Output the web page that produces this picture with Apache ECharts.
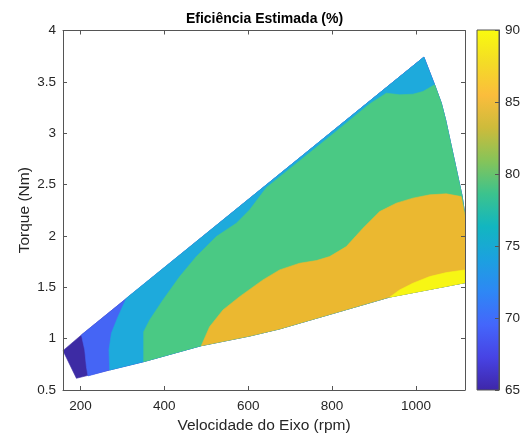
<!DOCTYPE html>
<html><head><meta charset="utf-8">
<script src="https://cdn.jsdelivr.net/npm/echarts@6/dist/echarts.min.js"></script>
<style>html,body{margin:0;padding:0;background:#fff}#c{width:529px;height:439px}</style>
</head><body><div id="c"></div>
<script>
// ---- data (rpm, Nm) ----
const xTicks = [200, 400, 600, 800, 1000];
const cbTicks = [65, 70, 75, 80, 85, 90];
const levels = [65, 70, 75, 80, 85, 90];
const levelColors = ['#3d2ba4', '#4565f5', '#1eaadc', '#4ac984', '#ebb830', '#f7f614'];

// operating-envelope boundary
const topEdge = [[158.5, 0.883], [202.4, 1.036], [1019, 3.741]];
const rightEdge = [[1019, 3.741], [1044.6, 3.471], [1060.5, 3.293], [1070.8, 3.13], [1110, 2.39], [1117, 2.2], [1117, 1.545]];
const bottomEdge = [[190.5, 0.614], [269.8, 0.695], [350.9, 0.776], [488.4, 0.932], [603.7, 1.026], [675, 1.095], [937.3, 1.405], [1117, 1.545]];

// contour lines (iso-efficiency)
const c70 = [[202.4, 1.036], [210.3, 0.89], [214.3, 0.727], [218.1, 0.637]];
const c75 = [[309.6, 1.394], [289.6, 1.214], [273.9, 1.053], [268.2, 0.89], [269.8, 0.695]];
const c80 = [[350.9, 0.776], [350.9, 1.068], [365.2, 1.182], [396.9, 1.377], [436.8, 1.604], [476.5, 1.799], [524.2, 1.994], [571.9, 2.124], [603.6, 2.254], [627.4, 2.383], [643.4, 2.47], [700, 2.656], [800, 2.985], [889.6, 3.285], [929.4, 3.39], [961.2, 3.374], [992.9, 3.38], [1016.7, 3.406], [1044.6, 3.471]];
const c85 = [[488.4, 0.932], [508.2, 1.117], [540, 1.28], [579.7, 1.409], [635.3, 1.572], [675, 1.669], [722.7, 1.734], [762.6, 1.76], [794.3, 1.799], [834, 1.896], [873.7, 2.075], [913.5, 2.237], [953.3, 2.319], [993, 2.368], [1032.7, 2.4], [1072.5, 2.41], [1108, 2.383]];
const c90 = [[937.3, 1.403], [961, 1.474], [993, 1.54], [1032.7, 1.604], [1072.5, 1.643], [1116, 1.669]];

// ---- build region polygons from the arrays ----
function domainPoly() {
  return topEdge.concat(rightEdge.slice(1), bottomEdge.slice(0, -1).reverse());
}
function leftContourPoly(c) { // contour from top edge to bottom edge; high side to the right
  const end = c[c.length - 1];
  const bot = bottomEdge.filter(p => p[0] > end[0]);
  const right = rightEdge.slice(0, -1).reverse();
  return c.concat(bot, right);
}
function lowerContourPoly(c) { // contour from bottom edge to right edge; high side below/right
  const start = c[0], end = c[c.length - 1];
  const right = rightEdge.filter(p => p[1] < end[1]);
  const bot = bottomEdge.filter(p => p[0] > start[0]).reverse();
  return c.concat(right, bot);
}
const polys = [domainPoly(), leftContourPoly(c70), leftContourPoly(c75), lowerContourPoly(c80), lowerContourPoly(c85), lowerContourPoly(c90)];

const parula = ['#3e26a8', '#4743e4', '#4466fb', '#2e87f5', '#1ca1df', '#12b6c0', '#3cc38d', '#86c459', '#cdbb3b', '#fbbd3c', '#f4dc26', '#f9fb0e'];

const axisCol = '#262626';
const lineCol = '#555555';
const font = 'Liberation Sans, Arial, Helvetica, sans-serif';

const chart = echarts.init(document.getElementById('c'), null, {renderer: 'canvas'});
chart.setOption({
  animation: false,
  backgroundColor: '#fff',
  title: {
    text: 'Eficiência Estimada (%)', left: 'center', top: 7,
    textStyle: {fontSize: 14, fontWeight: 'bold', color: '#000', fontFamily: font}
  },
  grid: [
    {left: 63, top: 30.5, width: 402, height: 359.5, containLabel: false},
    {left: 477, top: 30, width: 22, height: 360, containLabel: false}
  ],
  xAxis: [
    {type: 'value', gridIndex: 0, position: 'bottom', min: 158.5, max: 1117, z: 10,
     name: 'Velocidade do Eixo (rpm)', nameLocation: 'middle', nameGap: 28, nameMoveOverlap: false,
     nameTextStyle: {fontSize: 15.5, color: axisCol, fontFamily: font},
     axisLine: {show: true, onZero: false, lineStyle: {color: lineCol, width: 1}},
     axisTick: {show: true, inside: true, length: 4, customValues: xTicks, lineStyle: {color: lineCol}},
     axisLabel: {show: true, customValues: xTicks, margin: 9.5, fontSize: 13.5, color: axisCol, fontFamily: font,
                 formatter: v => String(v)},
     splitLine: {show: false}},
    {type: 'value', gridIndex: 0, position: 'top', min: 158.5, max: 1117, z: 10,
     axisLine: {show: true, onZero: false, lineStyle: {color: lineCol, width: 1}},
     axisTick: {show: true, inside: true, length: 4, customValues: xTicks, lineStyle: {color: lineCol}},
     axisLabel: {show: false}, splitLine: {show: false}},
    {type: 'value', gridIndex: 1, min: 0, max: 1, show: false}
  ],
  yAxis: [
    {type: 'value', gridIndex: 0, position: 'left', min: 0.5, max: 4, interval: 0.5, z: 10,
     name: 'Torque (Nm)', nameLocation: 'middle', nameGap: 30, nameRotate: 90, nameMoveOverlap: false,
     nameTextStyle: {fontSize: 15.5, color: axisCol, fontFamily: font},
     axisLine: {show: true, onZero: false, lineStyle: {color: lineCol, width: 1}},
     axisTick: {show: true, inside: true, length: 4, lineStyle: {color: lineCol}},
     axisLabel: {show: true, margin: 7, fontSize: 13.5, color: axisCol, fontFamily: font},
     splitLine: {show: false}},
    {type: 'value', gridIndex: 0, position: 'right', min: 0.5, max: 4, interval: 0.5, z: 10,
     axisLine: {show: true, onZero: false, lineStyle: {color: lineCol, width: 1}},
     axisTick: {show: true, inside: true, length: 4, lineStyle: {color: lineCol}},
     axisLabel: {show: false}, splitLine: {show: false}},
    {type: 'value', gridIndex: 1, position: 'right', min: 65, max: 90, interval: 5, z: 10,
     axisLine: {show: true, onZero: false, lineStyle: {color: lineCol, width: 1}},
     axisTick: {show: true, inside: true, length: 4, lineStyle: {color: lineCol}},
     axisLabel: {show: true, margin: 6, fontSize: 13.5, color: axisCol, fontFamily: font},
     splitLine: {show: false}}
  ],
  series: [
    {
      type: 'custom', xAxisIndex: 0, yAxisIndex: 0, coordinateSystem: 'cartesian2d',
      data: levels.map((l, i) => [i]),
      encode: {x: -1, y: -1},
      silent: true,
      renderItem: function (params, api) {
        const i = params.dataIndex;
        const pts = polys[i].map(p => api.coord(p));
        return {type: 'polygon', shape: {points: pts},
                style: {fill: levelColors[i], stroke: levelColors[i], lineWidth: 0.6}};
      }
    },
    {
      type: 'custom', xAxisIndex: 2, yAxisIndex: 2, coordinateSystem: 'cartesian2d',
      data: [[0, cbTicks[0], cbTicks[cbTicks.length - 1]]],
      silent: true, z: 1,
      renderItem: function (params, api) {
        const p0 = api.coord([0, api.value(2)]);
        const p1 = api.coord([1, api.value(1)]);
        const stops = parula.map((c, k) => ({offset: k / (parula.length - 1), color: c}));
        return {type: 'rect', shape: {x: p0[0], y: p0[1], width: p1[0] - p0[0], height: p1[1] - p0[1]},
                style: {fill: new echarts.graphic.LinearGradient(0, 1, 0, 0, stops), stroke: lineCol, lineWidth: 1}};
      }
    }
  ]
});
</script>
</body></html>
